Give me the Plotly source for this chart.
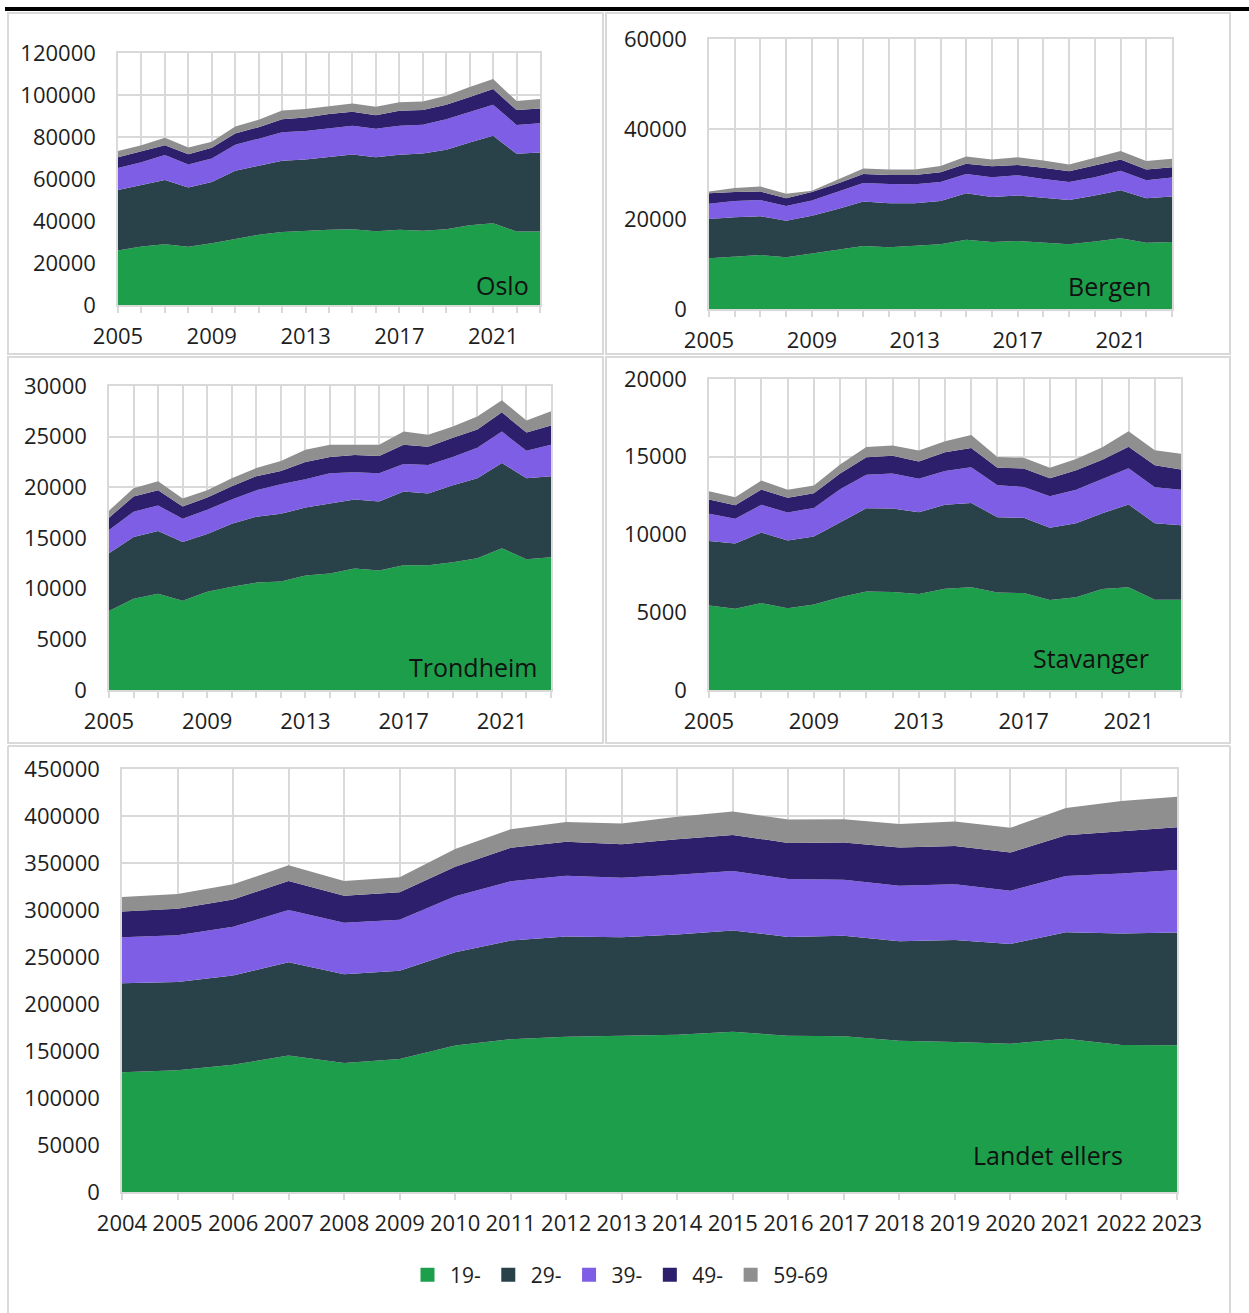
import plotly.graph_objects as go

W, H = 1249, 1313

series_names = ["19-", "29-", "39-", "49-", "59-69"]
series_colors = ["#1d9e4a", "#294148", "#7e5ee4", "#2e1f6c", "#8f8f8f"]

years_city = list(range(2005, 2024))
years_rest = list(range(2004, 2024))

# Oslo
oslo_19 = [25900, 27800, 28900, 27700, 29400, 31600, 33500, 34800, 35400, 35800,
           36100, 35100, 35800, 35400, 36100, 38000, 38900, 35000, 35000]
oslo_29 = [28900, 29400, 30600, 28300, 29200, 32300, 32800, 33900, 33900, 34800,
           35600, 35200, 35700, 36800, 37800, 39400, 41700, 37000, 37600]
oslo_39 = [10400, 10800, 11900, 10900, 11200, 12400, 12900, 13600, 13500, 13600,
           13600, 13600, 13800, 13600, 14500, 14500, 14800, 13700, 14000]
oslo_49 = [5100, 5300, 4700, 4900, 5100, 5400, 5500, 6200, 6500, 6700,
           6700, 6500, 7200, 7000, 7000, 7100, 7400, 7100, 7000]
oslo_59 = [3000, 2800, 3500, 3200, 2800, 3300, 3500, 4100, 4000, 3800,
           4000, 4000, 4100, 4100, 4300, 4800, 4800, 4300, 4500]

# Bergen
bergen_19 = [11300, 11700, 12000, 11500, 12300, 13200, 14000, 13700, 14000, 14400,
             15400, 14900, 15100, 14800, 14400, 15000, 15700, 14700, 14900]
bergen_29 = [8700, 8700, 8600, 8100, 8400, 9000, 9900, 9800, 9500, 9600,
             10300, 10000, 10100, 9900, 9800, 10200, 10700, 9900, 10100]
bergen_39 = [3400, 3600, 3600, 3300, 3400, 3800, 4100, 4300, 4200, 4200,
             4300, 4400, 4500, 4200, 4000, 4100, 4300, 4000, 4200]
bergen_49 = [2300, 2000, 1900, 1700, 1900, 1900, 2000, 2000, 2100, 2200,
             2300, 2400, 2300, 2500, 2400, 2600, 2500, 2400, 2300]
bergen_59 = [400, 900, 1100, 1000, 300, 800, 1200, 1200, 1200, 1400,
             1600, 1500, 1700, 1600, 1500, 1700, 1900, 1900, 1900]

# Trondheim
trondheim_19 = [7800, 9000, 9500, 8800, 9700, 10200, 10600, 10700, 11300, 11500,
                12000, 11800, 12300, 12300, 12600, 13000, 14000, 12900, 13100]
trondheim_29 = [5700, 6100, 6200, 5800, 5700, 6200, 6500, 6700, 6700, 6900,
                6800, 6800, 7300, 7100, 7600, 7900, 8400, 8000, 8000]
trondheim_39 = [2300, 2500, 2500, 2300, 2400, 2400, 2600, 2900, 2800, 3000,
                2700, 2800, 2700, 2800, 2800, 3000, 3100, 2700, 3100]
trondheim_49 = [1200, 1500, 1500, 1200, 1200, 1300, 1400, 1300, 1700, 1600,
                1700, 1700, 1900, 1800, 1900, 1800, 1900, 1800, 1900]
trondheim_59 = [700, 800, 900, 800, 700, 800, 800, 1000, 1200, 1200,
                1000, 1100, 1300, 1200, 1100, 1300, 1200, 1200, 1400]

# Stavanger
stavanger_19 = [5440, 5220, 5590, 5250, 5500, 5970, 6340, 6300, 6170, 6510,
                6600, 6270, 6230, 5780, 5970, 6490, 6600, 5800, 5800]
stavanger_29 = [4150, 4200, 4540, 4360, 4370, 4820, 5350, 5370, 5260, 5400,
                5430, 4840, 4840, 4650, 4760, 4880, 5330, 4930, 4800]
stavanger_39 = [1740, 1590, 1780, 1800, 1840, 2120, 2160, 2250, 2150, 2180,
                2300, 2060, 1990, 2030, 2140, 2180, 2330, 2310, 2270]
stavanger_49 = [920, 870, 980, 960, 940, 1020, 1120, 1150, 1110, 1200,
                1240, 1130, 1180, 1160, 1260, 1250, 1390, 1410, 1310]
stavanger_59 = [530, 520, 580, 500, 500, 570, 660, 650, 710, 710,
                830, 690, 690, 680, 730, 810, 990, 970, 1020]

# Landet ellers
rest_19 = [127400, 129500, 135500, 145100, 137300, 141600, 155800, 162600, 165100, 165800,
           167200, 170400, 166100, 165800, 160800, 159700, 157600, 162900, 156500, 156200]
rest_29 = [94600, 93900, 94700, 99300, 94300, 93900, 99300, 104900, 106700, 105300,
           106700, 107800, 105300, 106700, 106000, 108500, 106300, 113500, 118500, 119800]
rest_39 = [49100, 49800, 51900, 55500, 54800, 54100, 59400, 63000, 64700, 63300,
           63700, 63300, 61600, 59800, 59100, 59100, 56700, 59800, 63700, 66600]
rest_49 = [27400, 28100, 29200, 30900, 28800, 29200, 31600, 35600, 36000, 35600,
           37700, 38400, 38400, 39400, 40500, 40900, 40500, 43400, 45100, 45500]
rest_59 = [15300, 15700, 16000, 16800, 15600, 16000, 18900, 19900, 21000, 22000,
           23800, 24900, 24900, 24900, 25200, 25900, 26300, 28800, 32100, 32400]

FONT = "Open Sans, Segoe UI, sans-serif"
GRID = "#d9d9d9"
TEXT = "#1e1e1e"


def fx(px):
    return px / W


def fy(py):
    return 1 - py / H


# plot boxes in pixels: left, right, top, bottom; plus frame of each panel
panels = [
    dict(name="Oslo", years=years_city, data=[oslo_19, oslo_29, oslo_39, oslo_49, oslo_59],
         box=(118, 540, 53, 305), ymax=120000, dtick=20000, every=4,
         label_xy=(531, 285), frame=(8, 603, 13, 354)),
    dict(name="Bergen", years=years_city, data=[bergen_19, bergen_29, bergen_39, bergen_49, bergen_59],
         box=(709, 1172, 39, 309), ymax=60000, dtick=20000, every=4,
         label_xy=(1153, 286), frame=(606, 1230, 13, 354)),
    dict(name="Trondheim", years=years_city, data=[trondheim_19, trondheim_29, trondheim_39, trondheim_49, trondheim_59],
         box=(109, 551, 386, 690), ymax=30000, dtick=5000, every=4,
         label_xy=(539, 667), frame=(8, 603, 357, 743)),
    dict(name="Stavanger", years=years_city, data=[stavanger_19, stavanger_29, stavanger_39, stavanger_49, stavanger_59],
         box=(709, 1181, 379, 690), ymax=20000, dtick=5000, every=4,
         label_xy=(1151, 658), frame=(606, 1230, 357, 743)),
    dict(name="Landet ellers", years=years_rest, data=[rest_19, rest_29, rest_39, rest_49, rest_59],
         box=(122, 1177, 769, 1192), ymax=450000, dtick=50000, every=1,
         label_xy=(1125, 1155), frame=(8, 1230, 746, None)),
]

fig = go.Figure()
layout_axes = {}
shapes = []
annotations = []

for i, p in enumerate(panels, start=1):
    xa = "x" if i == 1 else f"x{i}"
    ya = "y" if i == 1 else f"y{i}"
    for name, color, vals in zip(series_names, series_colors, p["data"]):
        fig.add_trace(go.Scatter(
            x=p["years"], y=vals, mode="lines", stackgroup=f"s{i}",
            line=dict(width=0, color=color), fillcolor=color,
            name=name, showlegend=False, hoverinfo="skip",
            xaxis=xa, yaxis=ya,
        ))

    left, right, top, bottom = p["box"]
    yrs = p["years"]
    ticktext = [str(y) if (y - yrs[0]) % p["every"] == 0 else "" for y in yrs]
    layout_axes["xaxis" if i == 1 else f"xaxis{i}"] = dict(
        domain=[fx(left), fx(right)], anchor=ya, range=[yrs[0], yrs[-1]],
        tickvals=yrs, ticktext=ticktext, ticks="outside", ticklen=6, tickcolor=GRID,
        tickwidth=1.5, showgrid=True, gridcolor=GRID, gridwidth=1.5,
        showline=True, linecolor=GRID, linewidth=1.5, mirror=True,
        tickfont=dict(family=FONT, size=22, color=TEXT), ticklabelstandoff=5,
        zeroline=False, fixedrange=True, automargin=False,
    )
    layout_axes["yaxis" if i == 1 else f"yaxis{i}"] = dict(
        domain=[fy(bottom), fy(top)], anchor=xa, range=[0, p["ymax"]],
        dtick=p["dtick"], tick0=0, tickformat="d", showgrid=True, gridcolor=GRID, gridwidth=1.5,
        showline=True, linecolor=GRID, linewidth=1.5, mirror=True,
        tickfont=dict(family=FONT, size=22, color=TEXT), ticklabelstandoff=16,
        zeroline=False, fixedrange=True, automargin=False,
    )

    # panel name inside the plot
    lx, ly = p["label_xy"]
    annotations.append(dict(
        text=p["name"], xref="paper", yref="paper", x=fx(lx), y=fy(ly),
        xanchor="right", yanchor="middle", showarrow=False,
        font=dict(family=FONT, size=25, color="#111111"),
    ))

    # light frame around each panel (the bottom one runs off the page)
    f0, f1, f2, f3 = p["frame"]
    frame_line = dict(color=GRID, width=2)
    if f3 is None:
        for x0, x1, y0, y1 in [(f0, f1, f2, f2), (f0, f0, f2, H), (f1, f1, f2, H)]:
            shapes.append(dict(type="line", xref="paper", yref="paper",
                               x0=fx(x0), x1=fx(x1), y0=fy(y0), y1=fy(y1),
                               line=frame_line, layer="below"))
    else:
        shapes.append(dict(type="rect", xref="paper", yref="paper",
                           x0=fx(f0), x1=fx(f1), y0=fy(f3), y1=fy(f2),
                           line=frame_line, layer="below"))

# thick rule under the (cut off) figure title
shapes.append(dict(type="line", xref="paper", yref="paper",
                   x0=fx(5), x1=1, y0=fy(9), y1=fy(9),
                   line=dict(color="#000000", width=4)))

# legend entries as square markers
for name, color in zip(series_names, series_colors):
    fig.add_trace(go.Scatter(
        x=[None], y=[None], mode="markers", name=name,
        marker=dict(symbol="square", size=14, color=color),
        xaxis="x5", yaxis="y5",
    ))

fig.update_layout(
    template="none",
    width=W, height=H,
    margin=dict(l=0, r=0, t=0, b=0, autoexpand=False),
    paper_bgcolor="white", plot_bgcolor="white",
    shapes=shapes, annotations=annotations,
    showlegend=True,
    legend=dict(
        orientation="h", x=fx(405), xanchor="left", y=fy(1275), yanchor="middle",
        traceorder="normal", itemwidth=35,
        font=dict(family=FONT, size=21, color=TEXT),
        bgcolor="rgba(0,0,0,0)",
        itemclick=False, itemdoubleclick=False,
    ),
    **layout_axes,
)

# page body margin would shift the whole figure by 8 px
fig.write_html("out.html", config={"displayModeBar": False},
               post_script="document.body.style.margin = '0';")
